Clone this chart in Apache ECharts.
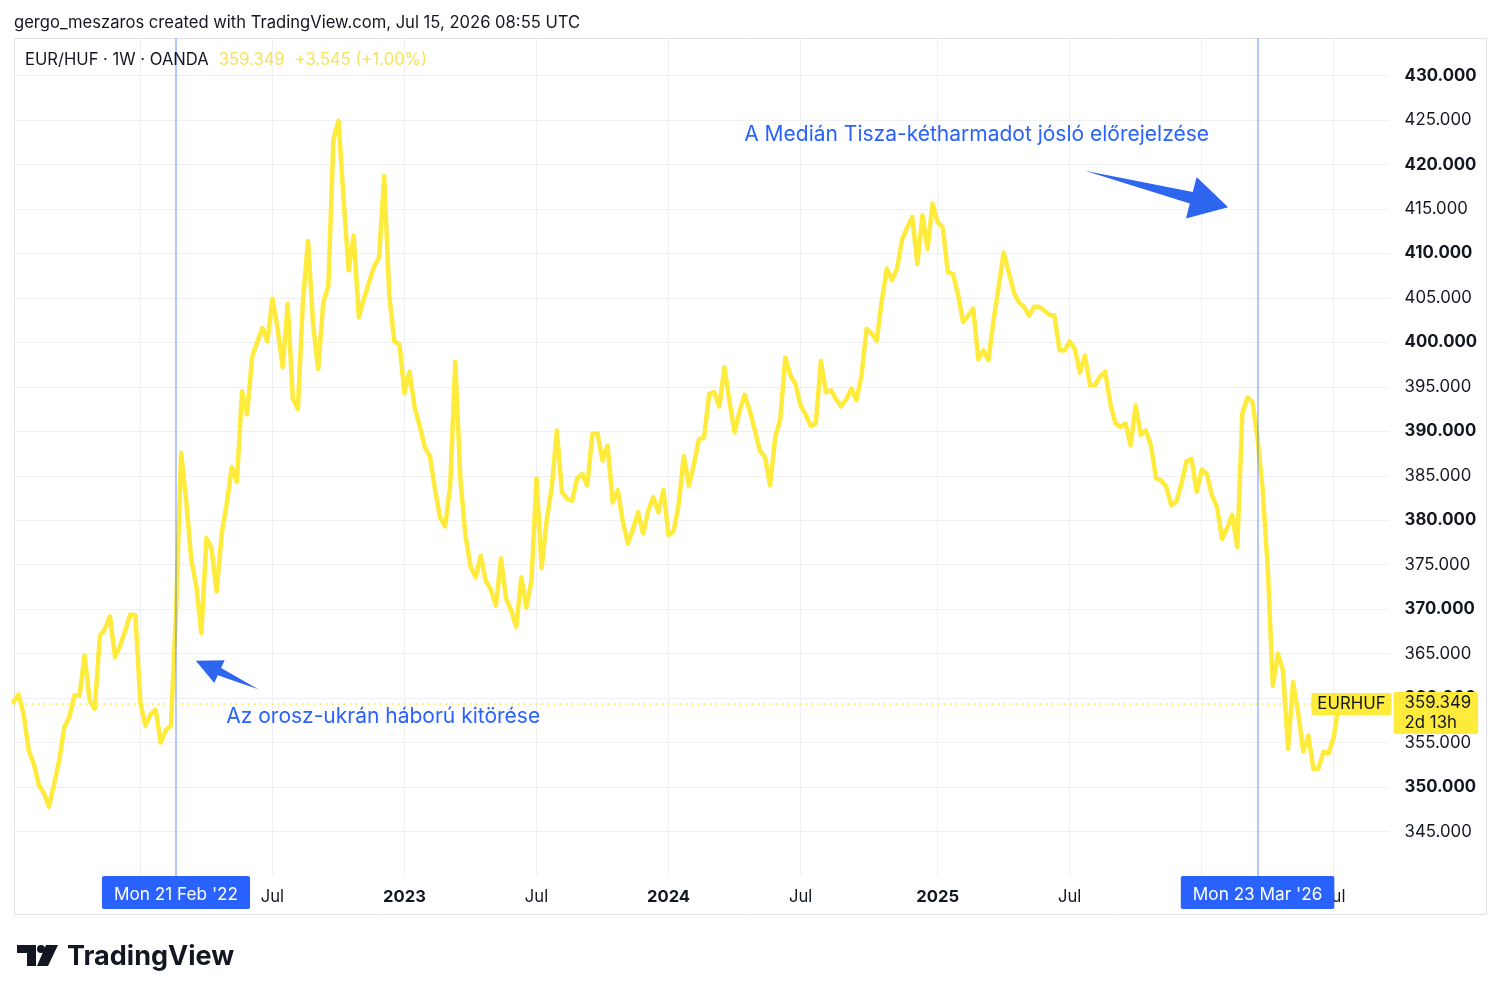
<!DOCTYPE html>
<html lang="hu">
<head>
<meta charset="UTF-8" />
<title>EUR/HUF 1W</title>
<script src="https://cdn.jsdelivr.net/npm/echarts@6.0.0/dist/echarts.min.js"></script>
<style>
  html, body { margin: 0; padding: 0; background: #fff; }
  #box { width: 1500px; height: 998px; }
</style>
</head>
<body>
<div id="box"></div>
<script>
  var FONT = "Inter, Roboto, 'Noto Sans', sans-serif";
  var INK = "#131722";
  var GRID_COLOR = "#eef0f4";
  var YELLOW = "#ffeb3b";
  var BLUE = "#2962ff";

  // weekly closes, first bar = week of 2021-07-12
  var startWeek = Date.UTC(2021, 6, 12);
  var closes = [
    359.6, 360.4, 358.2, 354.1, 352.6, 350.2, 349.3, 347.8, 350.4, 353.0,
    356.7, 357.9, 360.3, 360.3, 364.8, 359.7, 358.8, 367.0, 367.8, 369.2,
    364.6, 365.9, 367.6, 369.4, 369.3, 359.4, 356.9, 358.2, 358.7, 355.0,
    356.4, 356.9, 369.5, 387.6, 382.3, 375.6, 372.6, 367.3, 378.0, 376.8,
    372.0, 378.5, 381.9, 386.0, 384.3, 394.5, 391.9, 398.4, 400.0, 401.6,
    400.1, 404.9, 401.6, 397.2, 404.3, 393.7, 392.5, 404.7, 411.4, 402.0,
    397.0, 404.5, 406.3, 422.8, 424.9, 416.1, 408.1, 412.0, 402.8, 404.9,
    406.7, 408.5, 409.6, 418.7, 405.3, 400.1, 399.8, 394.3, 396.7, 392.7,
    390.6, 388.2, 387.2, 383.5, 380.3, 379.3, 383.9, 397.8, 384.6, 378.3,
    374.8, 373.6, 376.0, 373.2, 372.2, 370.4, 375.7, 371.2, 369.9, 368.0,
    373.6, 370.2, 373.2, 384.7, 374.6, 380.0, 383.7, 390.1, 383.2, 382.4,
    382.2, 384.7, 385.2, 383.9, 389.7, 389.8, 386.7, 388.4, 382.0, 383.4,
    379.8, 377.4, 379.0, 380.9, 378.5, 381.1, 382.6, 380.9, 383.4, 378.3,
    378.8, 381.8, 387.2, 383.9, 386.3, 389.1, 389.3, 394.2, 394.4, 392.8,
    397.2, 393.4, 389.9, 392.3, 394.1, 392.3, 390.1, 387.8, 387.1, 383.9,
    389.3, 391.4, 398.3, 396.3, 395.3, 392.9, 391.9, 390.6, 390.9, 397.9,
    394.4, 394.6, 393.6, 392.8, 393.6, 394.8, 393.5, 396.3, 401.5, 401.0,
    400.2, 404.7, 408.3, 407.0, 408.3, 411.6, 412.9, 414.1, 408.8, 414.3,
    410.5, 415.6, 413.5, 412.9, 407.9, 407.7, 405.4, 402.3, 403.0, 403.8,
    398.1, 399.1, 398.0, 402.5, 406.2, 410.1, 407.9, 405.6, 404.5, 404.0,
    403.0, 404.0, 404.0, 403.6, 403.1, 403.0, 399.1, 399.1, 400.1, 399.3,
    396.6, 398.5, 395.2, 395.2, 396.2, 396.7, 393.1, 390.9, 390.5, 390.9,
    388.4, 392.9, 389.6, 390.1, 388.4, 384.7, 384.5, 383.8, 381.7, 382.1,
    384.1, 386.6, 386.9, 383.2, 385.7, 385.2, 382.8, 381.5, 377.9, 379.1,
    380.6, 377.0, 392.0, 393.8, 393.3, 389.2, 383.4, 374.7, 361.4, 365.0,
    363.1, 354.3, 361.8, 358.3, 354.0, 355.8, 352.0, 352.1, 354.0, 353.8,
    355.6, 359.349
  ];
  var futureBars = 10; // empty space right of the last bar

  var lastPrice = 359.349;
  var lastChange = "+3.545 (+1.00%)";
  var countdown = "2d 13h";
  var symbolName = "EURHUF";
  var headerText = "EUR/HUF · 1W · OANDA";
  var titleText = "gergo_meszaros created with TradingView.com, Jul 15, 2026 08:55 UTC";

  // vertical date markers
  var eventIdx = [32, 245];
  var eventLabels = ["Mon 21 Feb '22", "Mon 23 Mar '26"];

  // text notes, anchored at [bar index, price]
  var noteTexts = ["A Medián Tisza-kétharmadot jósló előrejelzése", "Az orosz-ukrán háború kitörése"];
  var noteAt = [[143.9, 423.4], [41.9, 357.9]];
  // arrows: [tail, tip] in [bar index, price]
  var arrowFrom = [[211.0, 419.3], [48.2, 361.0]];
  var arrowTo = [[239.2, 415.2], [35.9, 364.2]];

  var weeks = [];
  for (var i = 0; i < closes.length + futureBars; i++) {
    weeks.push(new Date(startWeek + i * 7 * 864e5).toISOString().slice(0, 10));
  }

  function periodStart(i) {
    if (i === 0) return false;
    var m = +weeks[i].slice(5, 7);
    var pm = +weeks[i - 1].slice(5, 7);
    return m !== pm && (m === 1 || m === 7);
  }

  var myChart = echarts.init(document.getElementById("box"));

  var option = {
    animation: false,
    backgroundColor: "#ffffff",
    textStyle: { fontFamily: FONT },
    title: [
      {
        text: titleText,
        left: 14,
        top: 14,
        padding: 0,
        textStyle: { fontSize: 16.6, fontWeight: "normal", color: INK, fontFamily: FONT }
      },
      {
        text: "{a|" + headerText + "}  {b|" + lastPrice.toFixed(3) + "}  {b|" + lastChange + "}",
        left: 25,
        top: 51,
        padding: 0,
        textStyle: {
          fontFamily: FONT,
          fontWeight: "normal",
          rich: {
            a: { fontSize: 16.6, fontWeight: "normal", color: INK, fontFamily: FONT },
            b: { fontSize: 16.6, fontWeight: "normal", color: "#f6e35a", fontFamily: FONT }
          }
        }
      }
    ],
    grid: { left: 13.5, right: 110.4, top: 38, bottom: 122, outerBoundsMode: "none" },
    xAxis: {
      type: "category",
      data: weeks,
      boundaryGap: false,
      axisLine: { show: false },
      axisTick: { show: false },
      axisLabel: {
        interval: function (i) { return periodStart(i); },
        margin: 12,
        formatter: function (v) {
          return v.slice(5, 7) === "01" ? "{y|" + v.slice(0, 4) + "}" : "{m|Jul}";
        },
        rich: {
          y: { fontSize: 16.6, fontWeight: "bold", color: INK, fontFamily: FONT },
          m: { fontSize: 16.6, color: INK, fontFamily: FONT }
        }
      },
      splitLine: {
        show: true,
        interval: function (i) { return periodStart(i); },
        lineStyle: { color: GRID_COLOR, width: 1 }
      }
    },
    yAxis: {
      type: "value",
      position: "right",
      min: 340,
      max: 434.22,
      interval: 5,
      axisLine: { show: false },
      axisTick: { show: false },
      splitLine: { showMinLine: false, lineStyle: { color: GRID_COLOR, width: 1 } },
      axisLabel: {
        showMinLabel: false,
        showMaxLabel: false,
        margin: 15,
        formatter: function (v) {
          return (Math.round(v) % 10 === 0 ? "{b|" : "{n|") + v.toFixed(3) + "}";
        },
        rich: {
          b: { fontSize: 16.8, fontWeight: "bold", color: INK, fontFamily: FONT },
          n: { fontSize: 16.8, color: INK, fontFamily: FONT }
        }
      }
    },
    series: [
      {
        type: "line",
        data: closes,
        symbol: "none",
        showSymbol: false,
        z: 3,
        lineStyle: { color: YELLOW, width: 4.5, join: "round", cap: "round" },
        itemStyle: { color: YELLOW },
        markLine: {
          symbol: "none",
          silent: true,
          animation: false,
          data: [
            eventLine(0),
            eventLine(1),
            {
              yAxis: lastPrice,
              lineStyle: { color: YELLOW, type: [2, 4], width: 1.5 },
              label: {
                show: true,
                position: "insideEndBottom",
                distance: [-4, -12],
                align: "left",
                verticalAlign: "top",
                formatter: lastPrice.toFixed(3) + "\n" + countdown,
                color: INK,
                backgroundColor: YELLOW,
                fontSize: 16.8,
                lineHeight: 20,
                fontFamily: FONT,
                padding: [1, 7, 1, 11],
                borderRadius: 2
              }
            },
            {
              yAxis: lastPrice,
              lineStyle: { width: 0, color: YELLOW },
              label: {
                show: true,
                position: "insideEnd",
                distance: [-2, 0],
                formatter: symbolName,
                color: INK,
                backgroundColor: YELLOW,
                opacity: 1,
                fontSize: 16.8,
                lineHeight: 20,
                fontFamily: FONT,
                padding: [1, 6, 1, 6],
                borderRadius: 2
              }
            }
          ]
        }
      }
    ]
  };

  function eventLine(k) {
    return {
      xAxis: weeks[eventIdx[k]],
      lineStyle: { color: "rgba(41,98,255,0.35)", type: "solid", width: 2 },
      label: {
        show: true,
        position: "start",
        distance: 0,
        formatter: eventLabels[k],
        color: "#ffffff",
        backgroundColor: BLUE,
        fontSize: 17.2,
        lineHeight: 18,
        fontFamily: FONT,
        padding: [10, 12, 5, 12],
        borderRadius: 2
      }
    };
  }

  myChart.setOption(option);

  // pixel position of a (possibly fractional) bar index and price
  function toPx(idx, val) {
    var i0 = Math.floor(idx), f = idx - i0;
    var a = myChart.convertToPixel({ gridIndex: 0 }, [i0, val]);
    var b = myChart.convertToPixel({ gridIndex: 0 }, [i0 + 1, val]);
    return [a[0] + (b[0] - a[0]) * f, a[1]];
  }

  function arrowShape(p0, p1, headLen, headHalf, shaftHalf) {
    var dx = p1[0] - p0[0], dy = p1[1] - p0[1];
    var len = Math.sqrt(dx * dx + dy * dy);
    var ux = dx / len, uy = dy / len, nx = -uy, ny = ux;
    var bx = p1[0] - ux * headLen, by = p1[1] - uy * headLen;
    return [
      p0,
      [bx + nx * shaftHalf, by + ny * shaftHalf],
      [bx + nx * headHalf, by + ny * headHalf],
      p1,
      [bx - nx * headHalf, by - ny * headHalf],
      [bx - nx * shaftHalf, by - ny * shaftHalf]
    ];
  }

  var graphics = [
    {
      type: "rect",
      silent: true,
      z: 0,
      shape: { x: 14.5, y: 38.5, width: 1472, height: 876 },
      style: { fill: null, stroke: "#e0e3eb", lineWidth: 1 }
    }
  ];
  noteTexts.forEach(function (t, k) {
    var p = toPx(noteAt[k][0], noteAt[k][1]);
    graphics.push({
      type: "text",
      x: p[0],
      y: p[1],
      z: 10,
      style: { text: t, fill: BLUE, fontSize: 21, fontFamily: FONT, verticalAlign: "middle", align: "left" }
    });
  });
  var arrowSize = [[38, 21.5, 6], [26, 12.5, 4]];
  arrowFrom.forEach(function (a, k) {
    var p0 = toPx(a[0], a[1]);
    var p1 = toPx(arrowTo[k][0], arrowTo[k][1]);
    graphics.push({
      type: "polygon",
      z: 10,
      shape: { points: arrowShape(p0, p1, arrowSize[k][0], arrowSize[k][1], arrowSize[k][2]) },
      style: { fill: "#2f66f0" }
    });
  });

  // TradingView logo, bottom left
  graphics.push(
    { type: "polygon", z: 10, shape: { points: [[17, 945], [36, 945], [36, 966], [27, 966], [27, 953], [17, 953]] }, style: { fill: INK } },
    { type: "circle", z: 10, shape: { cx: 41, cy: 949, r: 4 }, style: { fill: INK } },
    { type: "polygon", z: 10, shape: { points: [[46, 945], [58, 945], [48, 966], [37, 966]] }, style: { fill: INK } },
    {
      type: "text",
      z: 10,
      x: 67,
      y: 957,
      style: { text: "TradingView", fill: INK, fontSize: 27, fontWeight: "bold", fontFamily: FONT, verticalAlign: "middle" }
    }
  );

  myChart.setOption({ graphic: graphics });
</script>
</body>
</html>
